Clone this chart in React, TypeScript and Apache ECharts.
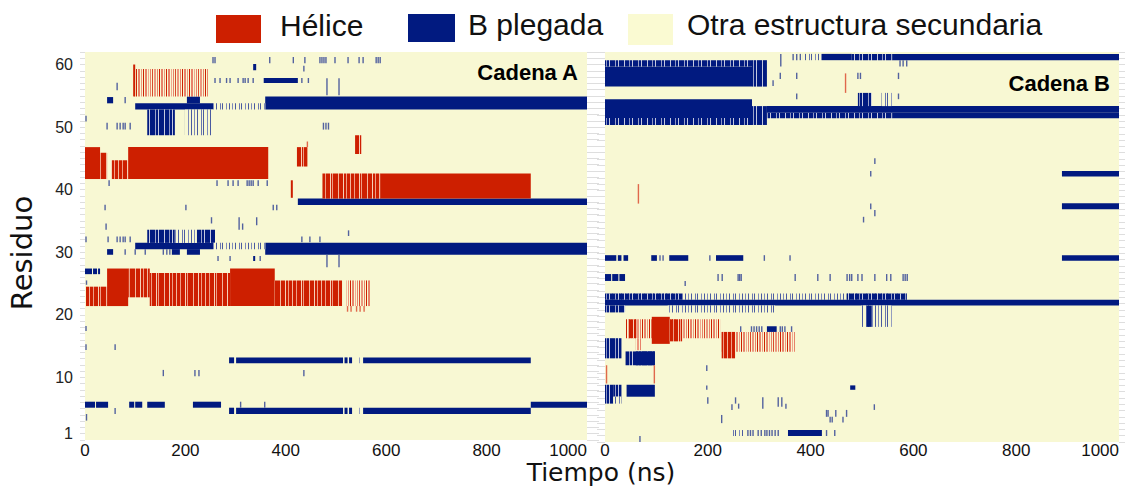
import React, { useEffect, useRef } from "react";
import * as echarts from "echarts";

// ---------- axes ----------
const TIME_MIN = 0;
const TIME_MAX = 1000;
const TIME_STEP = 200;
const RES_MIN = 0;
const RES_MAX = 62;
const RES_LABELS = [1, 10, 20, 30, 40, 50, 60];

// kinds: 0 helix, 1 helix (mixed), 2 helix (sparse), 3 strand, 4 strand (mixed), 5 strand (sparse)
// blocks: [t0 ns, t1 ns, residue low, residue high, kind]

// ---------- Cadena A ----------
const helixA = [
  [0, 30, 41.7, 46.8, 0],
  [30, 44, 41.7, 45.9, 1],
  [52, 86, 41.7, 44.7, 1],
  [86, 365, 41.7, 46.8, 0],
  [410, 414, 38.7, 41.5, 0],
  [422, 443, 43.7, 46.8, 1],
  [538, 551, 45.7, 48.7, 1],
  [473, 588, 38.6, 42.6, 1],
  [588, 888, 38.6, 42.6, 0],
  [98, 245, 54.9, 59.3, 2],
  [96, 100, 54.9, 60.0, 0],
  [2, 44, 21.4, 24.5, 1],
  [44, 86, 21.4, 27.4, 0],
  [86, 129, 22.8, 27.4, 1],
  [129, 289, 21.4, 26.7, 1],
  [289, 378, 21.4, 27.4, 0],
  [378, 512, 21.4, 25.5, 1],
  [521, 568, 21.4, 25.5, 2],
];

const strandA = [
  [359, 1000, 52.8, 54.9, 3],
  [100, 255, 52.8, 53.8, 3],
  [203, 229, 53.8, 54.9, 3],
  [44, 56, 53.8, 54.8, 3],
  [124, 179, 48.7, 52.8, 4],
  [199, 255, 48.7, 52.8, 5],
  [255, 359, 52.8, 53.8, 5],
  [356, 424, 57.05, 57.85, 3],
  [335, 341, 59.1, 60.1, 3],
  [424, 1000, 37.55, 38.6, 3],
  [359, 1000, 29.6, 31.5, 3],
  [100, 255, 30.5, 31.5, 3],
  [124, 179, 31.5, 33.6, 4],
  [179, 223, 31.5, 33.6, 5],
  [223, 259, 31.5, 33.6, 4],
  [255, 359, 30.5, 31.5, 5],
  [44, 56, 29.6, 30.5, 3],
  [203, 229, 29.6, 30.5, 3],
  [173, 189, 29.6, 30.5, 3],
  [335, 339, 28.6, 29.4, 3],
  [0, 14, 26.5, 27.4, 3],
  [16, 24, 26.5, 27.4, 3],
  [26, 30, 26.5, 27.4, 3],
  [287, 297, 12.26, 13.2, 3],
  [301, 514, 12.26, 13.2, 3],
  [517, 523, 12.26, 13.2, 3],
  [526, 532, 12.26, 13.2, 3],
  [540, 542, 12.26, 13.2, 5],
  [545, 547, 12.26, 13.2, 5],
  [549, 551, 12.26, 13.2, 5],
  [554, 888, 12.26, 13.2, 3],
  [287, 297, 4.15, 5.16, 3],
  [301, 514, 4.15, 5.16, 3],
  [517, 523, 4.15, 5.16, 3],
  [526, 532, 4.15, 5.16, 3],
  [540, 542, 4.15, 5.16, 5],
  [545, 547, 4.15, 5.16, 5],
  [549, 551, 4.15, 5.16, 5],
  [554, 888, 4.15, 5.16, 3],
  [888, 1000, 5.16, 6.12, 3],
  [0, 20, 5.16, 6.12, 3],
  [22, 46, 5.16, 6.12, 3],
  [88, 98, 5.16, 6.12, 3],
  [100, 114, 5.16, 6.12, 3],
  [124, 159, 5.16, 6.12, 3],
  [215, 271, 5.16, 6.12, 3],
];

// tick groups: [residue low, residue high, kind (0 helix / 1 strand), times]
const ticksA = [
  [60.2, 61.2, 1, [255, 259, 368, 415, 438, 468, 472, 476, 480, 498, 524, 546, 554, 580, 584, 588]],
  [57.05, 57.85, 1, [259, 269, 282, 289, 305, 315, 319, 325, 335, 432, 445]],
  [55.1, 57.8, 1, [482, 506]],
  [58.9, 59.8, 1, [436]],
  [55.9, 57.1, 1, [64]],
  [53.8, 54.8, 1, [80]],
  [50.9, 51.8, 1, [2]],
  [49.6, 50.7, 1, [44, 64, 70, 76, 80, 90, 475, 480, 485]],
  [40.6, 41.5, 1, [48, 263, 285, 295, 305, 323, 327, 331, 335, 345, 363]],
  [36.7, 37.6, 1, [40, 201, 375, 382]],
  [33.6, 34.6, 1, [42, 314]],
  [34.6, 35.6, 1, [252]],
  [33.6, 35.6, 1, [307]],
  [34.3, 35.6, 1, [342]],
  [32.6, 33.5, 1, [525]],
  [31.6, 32.5, 1, [2, 46, 64, 70, 76, 80, 90, 432, 448, 468]],
  [29.6, 30.5, 1, [80, 100, 120, 156, 163, 169]],
  [28.6, 29.4, 1, [265, 289, 349]],
  [27.6, 29.6, 1, [482, 506]],
  [24.8, 25.5, 1, [3]],
  [17.4, 18.2, 1, [2]],
  [14.4, 15.3, 1, [2, 60]],
  [10.2, 11.2, 1, [156, 219, 227, 436]],
  [4.15, 5.1, 1, [60]],
  [3.1, 4.15, 1, [3]],
  [5.16, 6.12, 1, [310, 358]],
  [20.5, 21.4, 0, [523, 530, 541, 548, 556]],
  [46.8, 47.7, 0, [443]],
];

// ---------- Cadena B ----------
const helixB = [
  [39, 224, 16.5, 19.5, 2],
  [45, 62, 16.5, 19.5, 1],
  [60, 72, 14.6, 16.5, 2],
  [91, 126, 15.6, 19.9, 0],
  [126, 150, 16.0, 19.5, 1],
  [227, 370, 14.35, 17.5, 2],
  [227, 253, 13.3, 17.5, 1],
];

const strandB = [
  [0, 286, 56.5, 59.7, 3],
  [0, 286, 59.7, 60.7, 4],
  [286, 315, 56.5, 60.7, 4],
  [0, 286, 51.5, 54.5, 3],
  [0, 286, 50.4, 51.5, 4],
  [286, 315, 50.4, 53.4, 4],
  [315, 560, 51.46, 52.35, 4],
  [315, 1000, 52.35, 53.4, 3],
  [560, 1000, 51.46, 52.35, 3],
  [385, 422, 60.7, 61.7, 5],
  [422, 480, 60.7, 61.7, 3],
  [480, 560, 60.7, 61.7, 4],
  [560, 1000, 60.7, 61.7, 3],
  [492, 519, 53.4, 55.5, 4],
  [538, 558, 53.4, 55.5, 5],
  [889, 1000, 42.2, 43.1, 3],
  [889, 1000, 37.0, 37.95, 3],
  [889, 1000, 28.8, 29.7, 3],
  [0, 587, 22.6, 23.6, 5],
  [0, 150, 22.6, 23.6, 4],
  [470, 587, 22.6, 23.6, 4],
  [0, 1000, 21.7, 22.6, 3],
  [0, 39, 20.6, 21.7, 4],
  [122, 331, 20.6, 21.7, 5],
  [499, 558, 18.3, 21.7, 5],
  [509, 519, 18.3, 21.7, 3],
  [0, 12, 25.6, 26.7, 3],
  [14, 26, 25.6, 26.7, 3],
  [28, 39, 25.6, 26.7, 3],
  [0, 22, 28.8, 29.7, 3],
  [25, 32, 28.8, 29.7, 3],
  [36, 45, 28.8, 29.7, 3],
  [90, 101, 28.8, 29.7, 3],
  [125, 162, 28.8, 29.7, 3],
  [216, 269, 28.8, 29.7, 3],
  [315, 334, 17.5, 18.4, 3],
  [0, 32, 13.3, 16.5, 4],
  [40, 97, 12.2, 14.4, 4],
  [60, 97, 12.2, 14.4, 3],
  [0, 16, 6.1, 9.1, 4],
  [16, 32, 7.2, 9.1, 4],
  [16, 32, 6.1, 7.2, 5],
  [42, 97, 7.2, 9.1, 3],
  [249, 269, 0.95, 1.9, 5],
  [356, 422, 0.95, 1.9, 3],
  [477, 487, 8.3, 9.0, 3],
];

const ticksB = [
  [9.3, 12.2, 0, [3, 96]],
  [37.9, 41.0, 0, [65]],
  [55.5, 58.6, 0, [468]],
  [25.6, 26.7, 1, [220, 228, 259, 262, 265, 370, 414, 438, 471, 476, 480, 492, 500, 525, 548, 556, 580, 584, 588]],
  [28.8, 29.7, 1, [107, 113, 204, 310, 360]],
  [24.8, 25.6, 1, [156]],
  [17.5, 18.4, 1, [264, 285, 290, 295, 300, 305, 341, 345, 350, 363]],
  [0.95, 1.9, 1, [278, 283, 288, 298, 304, 311, 315, 320, 325, 331, 337, 431, 447]],
  [0, 0.95, 1, [68]],
  [11.3, 12.2, 1, [198]],
  [8.3, 9.0, 1, [198]],
  [6.1, 7.1, 1, [200, 254]],
  [5.1, 6.0, 1, [247, 524]],
  [5.3, 6.1, 1, [260, 352]],
  [3.0, 4.3, 1, [227]],
  [5.3, 7.1, 1, [307]],
  [5.6, 7.1, 1, [337, 344]],
  [4.0, 5.1, 1, [431, 434, 449, 470]],
  [3.1, 4.0, 1, [438, 442, 463]],
  [59.7, 61.7, 1, [342]],
  [57.7, 58.7, 1, [341, 373, 492, 497, 571]],
  [56.6, 57.5, 1, [327]],
  [54.5, 55.4, 1, [373, 571]],
  [60.7, 61.7, 1, [366, 373, 380]],
  [59.7, 60.7, 1, [574, 580, 587]],
  [34.9, 35.8, 1, [503]],
  [44.2, 45.1, 1, [525]],
  [42.2, 43.1, 1, [517]],
  [37.0, 37.9, 1, [517]],
  [35.9, 36.9, 1, [525]],
];

// ---------- styles ----------
const RED = "#cd1f00";
const BLUE = "#011a80";
const BG = "#f8f8d3";
const FLAT_COLORS = [RED, "#d64a30", "#eb9c85", BLUE, "#25398f", "#a8b0d2"];
const TICK_COLORS = ["#e0684c", "#53629f"];
const FONT = "'Liberation Sans', Arial, Helvetica, sans-serif";
const TITLE_FONT = "'DejaVu Sans', 'Liberation Sans', Arial, sans-serif";

// stripe textures: [background, tile width, [x, width, colour][]]
const TEXTURES: any[] = [
  null,
  [RED, 29, [[2, 1, "#f2b59c"], [6, 1, "#ee9d85"], [11, 1, "#f6d0b8"], [13, 1, "#ee9d85"], [19, 1, "#f2b59c"], [24, 1, "#f6d0b8"], [27, 1, "#ee9d85"]]],
  [BG, 23, [[0, 2, "#e8826a"], [3, 1, "#ec977f"], [5, 1, RED], [7, 2, "#e8826a"], [10, 1, "#f0a890"], [12, 1, "#e8826a"], [14, 1, "#d8492c"], [16, 2, "#ec977f"], [19, 1, "#e8826a"], [21, 1, RED]]],
  null,
  [BLUE, 23, [[3, 1, "#c4c8df"], [8, 1, "#8d96c4"], [11, 1, "#c4c8df"], [17, 1, "#9aa2c9"], [20, 1, "#c4c8df"]]],
  [BG, 19, [[1, 1, "#4a5aa0"], [4, 1, "#7d88ba"], [7, 1, "#4a5aa0"], [11, 1, "#6a76b0"], [13, 1, "#4a5aa0"], [17, 1, "#7d88ba"]]],
];

let FILLS: any[] = FLAT_COLORS.slice();

const buildFills = () => {
  FILLS = FLAT_COLORS.map((c, i) => {
    const tex = TEXTURES[i];
    if (!tex) return c;
    try {
      const canvas = document.createElement("canvas");
      canvas.width = tex[1];
      canvas.height = 4;
      const ctx = canvas.getContext("2d");
      if (!ctx) return c;
      ctx.fillStyle = tex[0];
      ctx.fillRect(0, 0, tex[1], 4);
      tex[2].forEach((s: any[]) => {
        ctx.fillStyle = s[2];
        ctx.fillRect(s[0], 0, s[1], 4);
      });
      return { image: canvas, repeat: "repeat" };
    } catch (e) {
      return c;
    }
  });
};

const flattenTicks = (groups: any[]) => {
  const out: number[][] = [];
  groups.forEach((g) => g[3].forEach((t: number) => out.push([t, g[0], g[1], g[2]])));
  return out;
};

const renderBlock = (params: any, api: any) => {
  const t0 = api.value(0);
  const t1 = api.value(1);
  const r0 = api.value(2);
  const r1 = api.value(3);
  const k = api.value(4);
  const a = api.coord([t0, r1]);
  const b = api.coord([t1, r0]);
  const cs = params.coordSys;
  const shape = echarts.graphic.clipRectByRect(
    { x: a[0], y: a[1], width: Math.max(b[0] - a[0], 1.2), height: b[1] - a[1] },
    { x: cs.x, y: cs.y, width: cs.width, height: cs.height }
  );
  if (!shape) return null;
  return { type: "rect", shape, style: { fill: FILLS[k] } };
};

const renderTick = (params: any, api: any) => {
  const t = api.value(0);
  const r0 = api.value(1);
  const r1 = api.value(2);
  const k = api.value(3);
  const a = api.coord([t, r1]);
  const b = api.coord([t, r0]);
  return {
    type: "rect",
    shape: { x: a[0] - 0.7, y: a[1], width: 1.4, height: b[1] - a[1] },
    style: { fill: TICK_COLORS[k] },
  };
};

const ROW_TICKS = Array.from({ length: 63 }, (_, i) => i);

const xAxisFor = (gridIndex: number, margin: number) => ({
  gridIndex,
  type: "value",
  min: TIME_MIN,
  max: TIME_MAX,
  interval: TIME_STEP,
  axisLine: { show: false },
  axisTick: { show: false },
  splitLine: { show: false },
  axisLabel: {
    fontSize: 17,
    lineHeight: 17,
    color: "#111",
    margin,
    fontFamily: FONT,
    alignMaxLabel: "right",
    formatter: (v: number) => String(v),
  },
});

const yAxisFor = (gridIndex: number, position: string, showLabels: boolean, tickLen: number) => ({
  gridIndex,
  type: "value",
  position,
  min: RES_MIN,
  max: RES_MAX,
  axisLine: { show: false },
  splitLine: { show: false },
  axisTick: {
    show: true,
    length: tickLen,
    customValues: ROW_TICKS,
    lineStyle: { color: "#dedede", width: 1 },
  },
  axisLabel: showLabels
    ? { show: true, customValues: RES_LABELS, fontSize: 16, color: "#222", margin: 12, fontFamily: FONT }
    : { show: false },
});

export default function App() {
  const ref = useRef<HTMLDivElement>(null);

  useEffect(() => {
    if (!ref.current) return;
    buildFills();
    const chart = echarts.init(ref.current, undefined, { renderer: "svg" });
    const option: any = {
      animation: false,
      backgroundColor: "#ffffff",
      grid: [
        { left: 85, top: 52, width: 502, height: 388, show: true, backgroundColor: BG, borderWidth: 0 },
        { left: 605, top: 52, width: 514, height: 390, show: true, backgroundColor: BG, borderWidth: 0 },
      ],
      xAxis: [xAxisFor(0, 2), xAxisFor(1, 0)],
      yAxis: [
        yAxisFor(0, "left", true, 5),
        yAxisFor(0, "right", false, 12),
        yAxisFor(1, "left", false, 8),
        yAxisFor(1, "right", false, 6),
      ],
      series: [
        { type: "custom", name: "strandA", xAxisIndex: 0, yAxisIndex: 0, renderItem: renderBlock, data: strandA, encode: { x: [0, 1], y: [2, 3] }, silent: true },
        { type: "custom", name: "helixA", xAxisIndex: 0, yAxisIndex: 0, renderItem: renderBlock, data: helixA, encode: { x: [0, 1], y: [2, 3] }, silent: true },
        { type: "custom", name: "ticksA", xAxisIndex: 0, yAxisIndex: 0, renderItem: renderTick, data: flattenTicks(ticksA), encode: { x: 0, y: [1, 2] }, silent: true },
        { type: "custom", name: "strandB", xAxisIndex: 1, yAxisIndex: 2, renderItem: renderBlock, data: strandB, encode: { x: [0, 1], y: [2, 3] }, silent: true },
        { type: "custom", name: "helixB", xAxisIndex: 1, yAxisIndex: 2, renderItem: renderBlock, data: helixB, encode: { x: [0, 1], y: [2, 3] }, silent: true },
        { type: "custom", name: "ticksB", xAxisIndex: 1, yAxisIndex: 2, renderItem: renderTick, data: flattenTicks(ticksB), encode: { x: 0, y: [1, 2] }, silent: true },
      ],
      graphic: [
        { type: "rect", shape: { x: 216, y: 15, width: 45, height: 28 }, style: { fill: RED } },
        { type: "text", x: 280, y: 25, style: { text: "Hélice", fontSize: 30, fontFamily: FONT, fill: "#111", textVerticalAlign: "middle" } },
        { type: "rect", shape: { x: 408, y: 14, width: 47, height: 28 }, style: { fill: BLUE } },
        { type: "text", x: 468, y: 24, style: { text: "B plegada", fontSize: 30, fontFamily: FONT, fill: "#111", textVerticalAlign: "middle" } },
        { type: "rect", shape: { x: 628, y: 14, width: 45, height: 31 }, style: { fill: "#fafad2" } },
        { type: "text", x: 687, y: 24, style: { text: "Otra estructura secundaria", fontSize: 30, fontFamily: FONT, fill: "#111", textVerticalAlign: "middle" } },
        { type: "text", x: 578, y: 72, style: { text: "Cadena A", fontSize: 22, fontWeight: "bold", fontFamily: FONT, fill: "#000", textAlign: "right", textVerticalAlign: "middle" } },
        { type: "text", x: 1110, y: 83, style: { text: "Cadena B", fontSize: 22, fontWeight: "bold", fontFamily: FONT, fill: "#000", textAlign: "right", textVerticalAlign: "middle" } },
        { type: "text", x: 601, y: 472.8, style: { text: "Tiempo (ns)", fontSize: 25, lineHeight: 25, fontFamily: TITLE_FONT, fill: "#111", textAlign: "center", textVerticalAlign: "middle" } },
        { type: "text", x: 22, y: 253, rotation: Math.PI / 2, style: { text: "Residuo", fontSize: 29, fontFamily: TITLE_FONT, fill: "#111", textAlign: "center", textVerticalAlign: "middle" } },
      ],
    };
    chart.setOption(option);
    return () => chart.dispose();
  }, []);

  return (
    <div
      ref={ref}
      style={{ position: "absolute", left: 0, top: 0, width: 1125, height: 486 }}
    />
  );
}
